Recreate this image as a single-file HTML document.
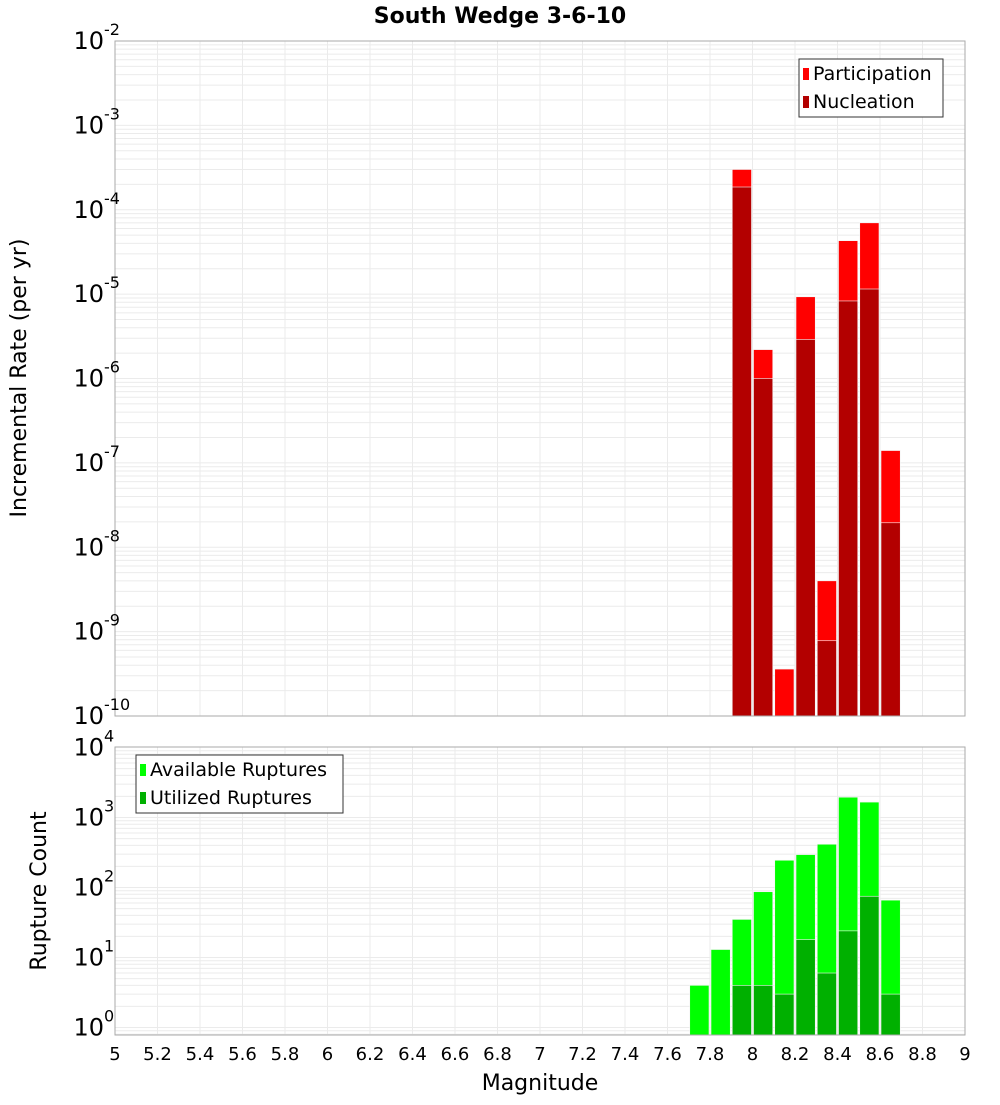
<!DOCTYPE html>
<html><head><meta charset="utf-8"><style>
body{margin:0;background:#fff;font-family:"Liberation Sans","DejaVu Sans",sans-serif}
svg text{font-family:"DejaVu Sans","Liberation Sans",sans-serif}
</style></head><body>
<svg id="c" width="1000" height="1100" xmlns="http://www.w3.org/2000/svg">
<text x="500" y="23" text-anchor="middle" font-size="22" font-weight="bold">South Wedge 3-6-10</text>
<g id="top"></g>
<g id="bot"></g>
<text transform="translate(26,378) rotate(-90)" text-anchor="middle" font-size="22">Incremental Rate (per yr)</text>
<text transform="translate(46,891) rotate(-90)" text-anchor="middle" font-size="22">Rupture Count</text>
<text x="540" y="1090" text-anchor="middle" font-size="22">Magnitude</text>
</svg>
<script>
const mags=[7.75,7.85,7.95,8.05,8.15,8.25,8.35,8.45,8.55,8.65];
const participation=[0,0,3.0e-4,2.2e-6,3.6e-10,9.3e-6,4.0e-9,4.3e-5,7.0e-5,1.4e-7];
const nucleation=[0,0,1.86e-4,1.0e-6,0,2.9e-6,7.8e-10,8.3e-6,1.15e-5,1.95e-8];
const available=[4,13,35,87,245,295,415,1950,1660,66];
const utilized=[0,0,4,4,3,18,6,24,75,3];
const xTicks=["5","5.2","5.4","5.6","5.8","6","6.2","6.4","6.6","6.8","7","7.2","7.4","7.6","7.8","8","8.2","8.4","8.6","8.8","9"];
const topExps=[-2,-3,-4,-5,-6,-7,-8,-9,-10];
const botExps=[4,3,2,1,0];
const NS="http://www.w3.org/2000/svg";
const X0=115,X1=965;
const xs=m=>X0+(m-5)/4*(X1-X0);
const yTop=v=>41+(-2-Math.log10(v))*(675/8);
const yBot=v=>1027.5-Math.log10(v)*70;
function mk(p,t,a){const e=document.createElementNS(NS,t);for(const k in a)e.setAttribute(k,a[k]);p.appendChild(e);return e;}
function grid(g,top,bot,yf,dmin,dmax){
  for(let d=dmin;d<dmax;d++)for(let k=1;k<10;k++){const y=yf(k*Math.pow(10,d));if(y<top-0.5||y>bot+0.5)continue;
    const l=mk(g,'line',{x1:X0,x2:X1,y1:y,y2:y,stroke:'#ebebeb','stroke-width':1});
    }
  for(let i=1;i<20;i++){const x=xs(5+i*0.2);const l=mk(g,'line',{x1:x,x2:x,y1:top,y2:bot,stroke:'#ebebeb','stroke-width':1});
    }
}
function bar(g,m,v,yf,base,fill,name){
  if(!(v>0))return;const x=xs(m-0.05)+1,w=xs(m+0.05)-xs(m-0.05)-2,y=yf(v);
  const r=mk(g,'rect',{x:x,y:y,width:w,height:base-y,fill:fill,stroke:'#f4f4f4','stroke-width':0.6});
  
}
function ylab(g,e,y){
  const t=mk(g,'text',{x:104,y:y+8,'text-anchor':'end','font-size':24});
  
  t.textContent='10';
  const s=mk(g,'text',{x:104,y:y-6,'font-size':16});s.textContent=String(e);
  
}
function legend(g,x,y,w,items){
  const r=mk(g,'rect',{x:x,y:y,width:w,height:58,fill:'#fff',stroke:'#333','stroke-width':1});
  
  items.forEach((it,i)=>{const sw=mk(g,'rect',{x:x+4,y:y+9+i*28,width:6,height:12,fill:it[1]});
    
    const t=mk(g,'text',{x:x+14,y:y+21+i*28,'font-size':19});t.textContent=it[0];
    });
}
const gt=document.getElementById('top');
grid(gt,41,716,yTop,-10,-2);
mags.forEach((m,i)=>bar(gt,m,participation[i],yTop,716,'#ff0000','participation-bar'));
mags.forEach((m,i)=>bar(gt,m,nucleation[i],yTop,716,'#b30000','nucleation-bar'));
let f=mk(gt,'rect',{x:X0,y:41,width:X1-X0,height:675,fill:'none',stroke:'#aaa','stroke-width':1});

topExps.forEach(e=>ylab(gt,e,yTop(Math.pow(10,e))));
legend(gt,799,59,144,[['Participation','#ff0000'],['Nucleation','#b30000']]);
const gb=document.getElementById('bot');
grid(gb,747,1035,yBot,-1,4);
mags.forEach((m,i)=>bar(gb,m,available[i],yBot,1035,'#00ff00','available-bar'));
mags.forEach((m,i)=>bar(gb,m,utilized[i],yBot,1035,'#00b000','utilized-bar'));
f=mk(gb,'rect',{x:X0,y:747,width:X1-X0,height:288,fill:'none',stroke:'#aaa','stroke-width':1});

botExps.forEach(e=>ylab(gb,e,yBot(Math.pow(10,e))));
legend(gb,136,755,207,[['Available Ruptures','#00ff00'],['Utilized Ruptures','#00b000']]);
xTicks.forEach(s=>{const t=mk(gb,'text',{x:xs(parseFloat(s)),y:1060,'text-anchor':'middle','font-size':18});t.textContent=s;
  });
</script>
</body></html>
